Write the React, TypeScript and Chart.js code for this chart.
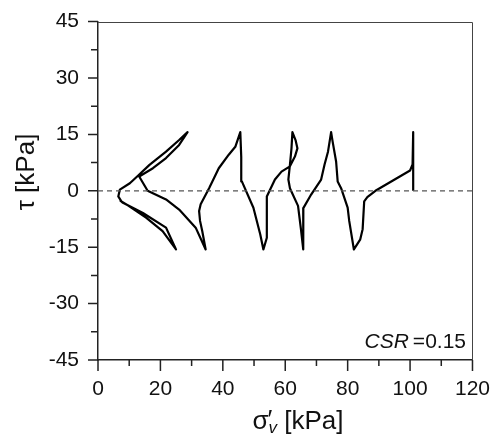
import { useEffect, useRef } from "react";
import { Chart, registerables } from "chart.js";

Chart.register(...registerables);

// ---- axis ticks ----
const xTicks = [0, 20, 40, 60, 80, 100, 120];
const yTicks = [-45, -30, -15, 0, 15, 30, 45];
const xTickMarks = [0, 10, 20, 30, 40, 50, 60, 70, 80, 90, 100, 110, 120];
const yTickMarks = [-45, -37.5, -30, -22.5, -15, -7.5, 0, 7.5, 15, 22.5, 30, 37.5, 45];

// ---- stress path branches (sigma'_v [kPa], tau [kPa]) ----
const loadX = [101, 101];
const loadY = [0, 15.6];
const branch1X = [101, 100.8, 100, 88.9, 86.3, 85.3, 84.8, 84, 82];
const branch1Y = [15.6, 7, 5.4, 0, -1.7, -2.8, -10.2, -13, -15.6];
const branch2X = [82, 80.5, 80, 77.9, 76.8, 76.3, 75.2, 74.7];
const branch2Y = [-15.6, -8, -4.5, 0.7, 2.5, 7.8, 13, 15.6];
const branch3X = [74.7, 73.7, 72.6, 71.5, 68.3, 65.8, 65.9, 65.7];
const branch3Y = [15.6, 10.4, 7, 3, -1, -4.6, -10, -15.6];
const branch4X = [65.7, 65, 64.1, 61.5, 61, 61.5, 62, 62.3];
const branch4Y = [-15.6, -10, -4, 0.7, 3, 6.9, 11.3, 15.6];
const branch5X = [62.3, 63.3, 63.9, 63.1, 61.5, 58.8, 56.7, 54.1, 54.1, 53];
const branch5Y = [15.6, 13.5, 11.3, 9.1, 6.5, 5.1, 3, -1.5, -12.5, -15.6];
const branch6X = [53, 52, 49.8, 46.1, 45.9, 45.6];
const branch6Y = [-15.6, -11.6, -4.5, 2.5, 9, 15.6];
const branch7X = [45.6, 44, 41.9, 38.7, 35.6, 32.9, 32.4, 32.7, 33.4, 34.5];
const branch7Y = [15.6, 11.7, 9.6, 6, 0.7, -3.6, -5.4, -8, -10.7, -15.6];
const branch8X = [34.5, 31.3, 26, 21.8, 15.9, 13.2, 17.6, 21.8, 26, 28.7];
const branch8Y = [-15.6, -9.8, -5, -2.3, 0, 3.8, 6, 8.7, 12.2, 15.6];
const branch9X = [28.7, 26, 21.8, 16.5, 12.8, 10.2, 7, 6.5, 7.5];
const branch9Y = [15.6, 13.5, 10.4, 6.9, 4, 2, 0.3, -1.5, -2.8];
const branch10X = [7.5, 9.1, 15.5, 20.7, 25, 21.8, 14.4, 8, 7];
const branch10Y = [-2.8, -3.6, -7.2, -10.7, -15.6, -9.8, -5.9, -3.2, -2.5];

const zeroLineX = [0, 120];
const zeroLineY = [0, 0];

const pathX = [loadX, branch1X, branch2X, branch3X, branch4X, branch5X, branch6X, branch7X, branch8X, branch9X, branch10X];
const pathY = [loadY, branch1Y, branch2Y, branch3Y, branch4Y, branch5Y, branch6Y, branch7Y, branch8Y, branch9Y, branch10Y];

const FONT = "'Liberation Sans', Arial, sans-serif";

function buildPath() {
  const pts: { x: number; y: number }[] = [];
  pathX.forEach((xs, i) => {
    xs.forEach((x, j) => pts.push({ x, y: pathY[i][j] }));
  });
  return pts;
}

const decorPlugin = {
  id: "decor",
  afterDraw(chart: any) {
    const { ctx, chartArea: a, scales } = chart;
    const xs = scales.x;
    const ys = scales.y;
    ctx.save();
    // top and right frame
    ctx.strokeStyle = "#444";
    ctx.lineWidth = 1;
    ctx.beginPath();
    ctx.moveTo(a.left, Math.round(a.top) + 0.5);
    ctx.lineTo(Math.round(a.right) + 0.5, Math.round(a.top) + 0.5);
    ctx.lineTo(Math.round(a.right) + 0.5, a.bottom);
    ctx.stroke();

    // outward ticks
    ctx.strokeStyle = "#222";
    ctx.lineWidth = 1.5;
    ctx.beginPath();
    xTickMarks.forEach((v) => {
      const px = xs.getPixelForValue(v);
      const len = xTicks.includes(v) ? 11 : 6;
      ctx.moveTo(px, a.bottom);
      ctx.lineTo(px, a.bottom + len);
    });
    yTickMarks.forEach((v) => {
      const py = ys.getPixelForValue(v);
      const len = yTicks.includes(v) ? 10 : 7;
      ctx.moveTo(a.left, py);
      ctx.lineTo(a.left - len, py);
    });
    ctx.stroke();

    ctx.fillStyle = "#111";
    // CSR annotation
    ctx.textBaseline = "alphabetic";
    ctx.textAlign = "left";
    ctx.font = `21px ${FONT}`;
    const val = "=0.15";
    const wVal = ctx.measureText(val).width;
    const right = 466;
    ctx.fillText(val, right - wVal, 348);
    ctx.font = `italic 21px ${FONT}`;
    const csr = "CSR";
    const wCsr = ctx.measureText(csr).width;
    ctx.fillText(csr, right - wVal - 4 - wCsr, 348);

    // x-axis title: σ′v [kPa]
    ctx.font = `26px ${FONT}`;
    const s1 = "σ";
    const s2 = "′";
    const s4 = " [kPa]";
    const w1 = ctx.measureText(s1).width;
    const w2 = ctx.measureText(s2).width;
    const w4 = ctx.measureText(s4).width;
    ctx.font = `italic 17px ${FONT}`;
    const w3 = ctx.measureText("v").width;
    const total = w1 + Math.max(w3, w2) + w4;
    const x0 = 298 - total / 2;
    const base = 429;
    ctx.font = `26px ${FONT}`;
    ctx.fillText(s1, x0, base);
    ctx.fillText(s2, x0 + w1 - 1, base - 1);
    ctx.font = `italic 17px ${FONT}`;
    ctx.fillText("v", x0 + w1, base + 4);
    ctx.font = `26px ${FONT}`;
    ctx.fillText(s4, x0 + w1 + Math.max(w3, w2), base);

    // y-axis title: τ [kPa]
    ctx.font = `26px ${FONT}`;
    const yt = "τ [kPa]";
    const wy = ctx.measureText(yt).width;
    ctx.translate(34, 172 + wy / 2);
    ctx.rotate(-Math.PI / 2);
    ctx.fillText(yt, 0, 0);
    ctx.restore();
  },
};

export default function App() {
  const ref = useRef<HTMLCanvasElement | null>(null);

  useEffect(() => {
    if (!ref.current) return;
    const chart = new Chart(ref.current, {
      type: "scatter",
      data: {
        datasets: [
          {
            data: zeroLineX.map((x, i) => ({ x, y: zeroLineY[i] })),
            showLine: true,
            borderColor: "#555",
            borderWidth: 1.2,
            borderDash: [5, 4],
            pointRadius: 0,
          },
          {
            data: buildPath(),
            showLine: true,
            borderColor: "#000",
            borderWidth: 2.2,
            pointRadius: 0,
            tension: 0,
            borderJoinStyle: "round",
          },
        ],
      },
      options: {
        animation: false,
        responsive: true,
        maintainAspectRatio: false,
        layout: { padding: { top: 19, right: 20, left: 0, bottom: 0 } },
        plugins: {
          legend: { display: false },
          tooltip: { enabled: false },
        },
        scales: {
          x: {
            type: "linear",
            min: 0,
            max: 120,
            afterBuildTicks: (s: any) => {
              s.ticks = xTicks.map((v) => ({ value: v }));
            },
            afterFit: (s: any) => {
              s.height = 81;
            },
            grid: { display: false, drawTicks: true, tickLength: 11 },
            border: { display: true, color: "#222", width: 1.5 },
            ticks: {
              padding: 6,
              color: "#111",
              font: { family: FONT, size: 21 },
              maxRotation: 0,
            },
          },
          y: {
            type: "linear",
            min: -45,
            max: 45,
            afterBuildTicks: (s: any) => {
              s.ticks = yTicks.map((v) => ({ value: v }));
            },
            afterFit: (s: any) => {
              s.width = 98;
            },
            grid: { display: false, drawTicks: true, tickLength: 10 },
            border: { display: true, color: "#222", width: 1.5 },
            ticks: {
              padding: 9,
              color: "#111",
              font: { family: FONT, size: 21 },
            },
          },
        },
      },
      plugins: [decorPlugin],
    } as any);
    return () => chart.destroy();
  }, []);

  return (
    <div style={{ position: "fixed", left: 0, top: 0, width: 496, height: 441, background: "#fff" }}>
      <canvas ref={ref} />
    </div>
  );
}
